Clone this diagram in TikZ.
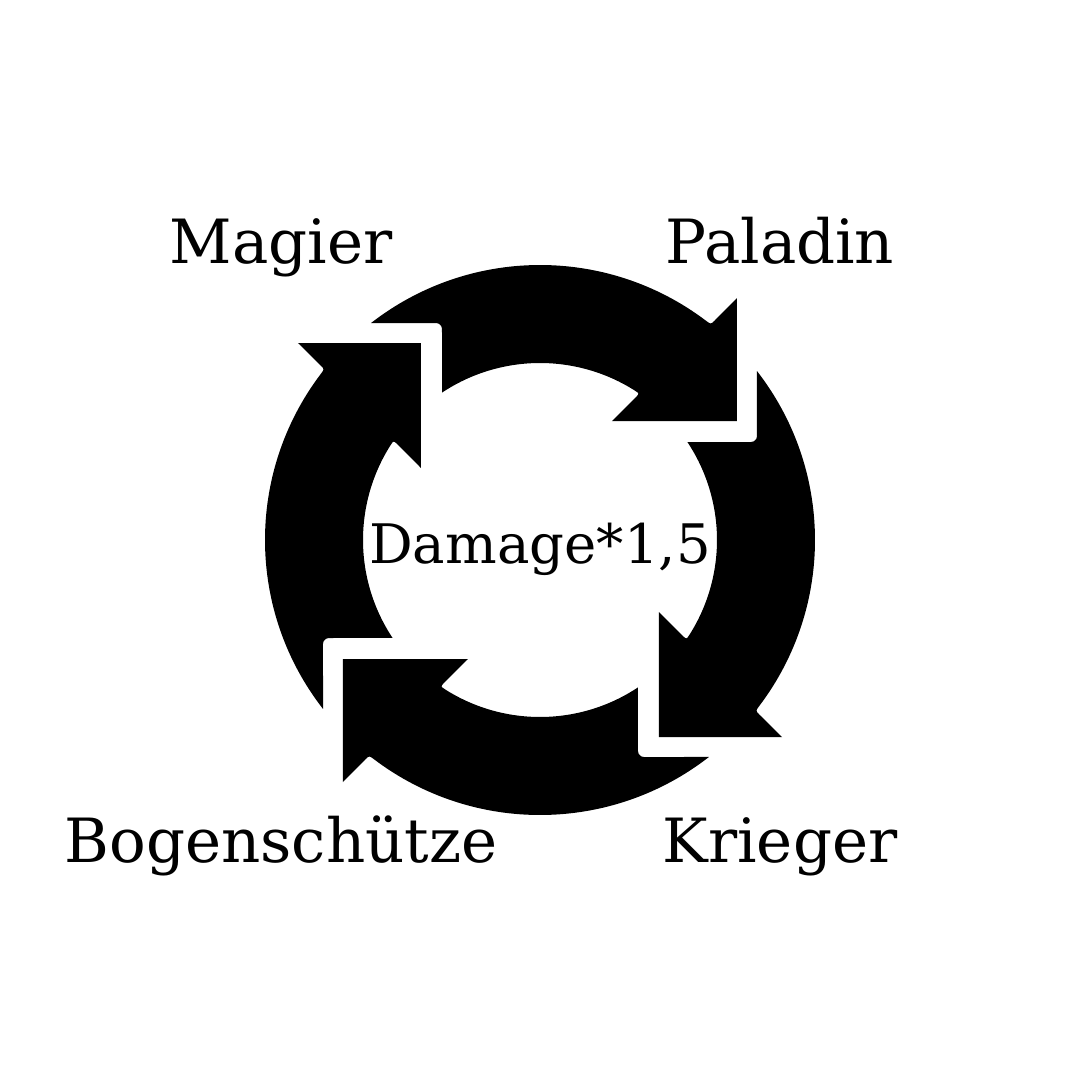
\documentclass[tikz,border=0pt]{standalone}
\usepackage{fontspec}
\setmainfont{DejaVu Serif}
\usetikzlibrary{calc}
\tikzset{
  arrowpart/.style={fill=black},
  lbl/.style={anchor=base, inner sep=0pt, font=\fontsize{61}{70}\selectfont, text=black},
  centerlbl/.style={lbl, font=\fontsize{54.5}{62}\selectfont}
}
\newcommand{\cyclearrow}{%
  \fill[arrowpart] (127.9:275) arc[start angle=127.9, end angle=53.0, radius=275]
    .. controls (51.6:275) .. ($(51.6:275)!0.15!(197,242)$)
    -- (197,242) -- (197,119) -- (72,119)
    -- ($(55.8:177)!0.15!(72,119)$) .. controls (55.8:177) .. (57.5:177)
    arc[start angle=57.5, end angle=123.6, radius=177]
    -- (-98,211) arc[start angle=0, end angle=90, radius=6]
    -- cycle;%
}
\begin{document}
\begin{tikzpicture}[x=1pt,y=1pt]
  \useasboundingbox[fill=white] (-540,-540) rectangle (540,540);
  \begin{scope}[rotate=0]\cyclearrow\end{scope}
  \begin{scope}[rotate=-90]\cyclearrow\end{scope}
  \begin{scope}[rotate=-180]\cyclearrow\end{scope}
  \begin{scope}[rotate=-270]\cyclearrow\end{scope}
  \node[lbl] (magier) at (-259,277) {Magier};
  \node[lbl] (paladin) at (240,277) {Paladin};
  \node[lbl] (bogen) at (-259,-322) {Bogenschütze};
  \node[lbl] (krieger) at (240,-322) {Krieger};
  \node[centerlbl] (dmg) at (0,-23) {Damage*1,5};
\end{tikzpicture}
\end{document}
